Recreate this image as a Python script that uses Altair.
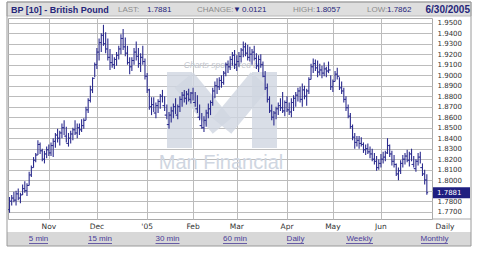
import altair as alt
import pandas as pd

# ---------------- data ----------------
low = [1.769,1.776,1.779,1.776,1.781,1.778,1.786,1.788,1.785,1.795,
       1.803,1.812,1.817,1.824,1.825,1.818,1.816,1.821,1.823,1.823,
       1.822,1.831,1.836,1.833,1.840,1.843,1.836,1.832,1.835,1.838,
       1.843,1.840,1.843,1.846,1.849,1.857,1.864,1.874,1.883,1.898,
       1.906,1.914,1.922,1.928,1.921,1.914,1.905,1.907,1.906,1.909,
       1.915,1.920,1.924,1.918,1.910,1.901,1.904,1.910,1.914,1.907,
       1.903,1.910,1.896,1.883,1.867,1.862,1.865,1.859,1.864,1.868,
       1.874,1.866,1.858,1.849,1.855,1.859,1.863,1.858,1.865,1.870,
       1.874,1.872,1.875,1.873,1.876,1.870,1.864,1.857,1.849,1.846,
       1.851,1.859,1.862,1.871,1.878,1.882,1.886,1.888,1.891,1.899,
       1.902,1.905,1.909,1.906,1.904,1.908,1.912,1.917,1.918,1.914,
       1.913,1.910,1.914,1.906,1.903,1.907,1.898,1.886,1.874,1.864,
       1.857,1.852,1.858,1.862,1.866,1.864,1.861,1.865,1.862,1.860,
       1.866,1.870,1.875,1.874,1.870,1.877,1.871,1.882,1.896,1.902,
       1.904,1.898,1.900,1.897,1.899,1.898,1.902,1.886,1.884,1.894,
       1.896,1.886,1.882,1.874,1.866,1.859,1.849,1.838,1.830,1.832,
       1.830,1.832,1.826,1.824,1.825,1.821,1.818,1.815,1.809,1.810,
       1.812,1.816,1.818,1.825,1.822,1.814,1.812,1.804,1.800,1.806,
       1.812,1.815,1.817,1.813,1.818,1.812,1.808,1.814,1.816,1.804,1.796,1.7862]
high = [1.784,1.786,1.789,1.790,1.792,1.788,1.796,1.799,1.797,1.808,
        1.814,1.822,1.826,1.838,1.836,1.830,1.828,1.832,1.834,1.836,
        1.840,1.845,1.849,1.847,1.854,1.857,1.851,1.845,1.847,1.850,
        1.857,1.854,1.854,1.858,1.859,1.870,1.878,1.890,1.898,1.912,
        1.926,1.935,1.940,1.948,1.941,1.935,1.925,1.920,1.917,1.922,
        1.928,1.939,1.944,1.936,1.928,1.917,1.917,1.926,1.932,1.926,
        1.921,1.928,1.916,1.902,1.887,1.879,1.879,1.874,1.877,1.882,
        1.886,1.880,1.872,1.865,1.870,1.873,1.878,1.872,1.880,1.884,
        1.886,1.885,1.887,1.884,1.888,1.884,1.881,1.872,1.864,1.861,
        1.867,1.873,1.876,1.888,1.894,1.897,1.898,1.900,1.904,1.912,
        1.914,1.918,1.922,1.924,1.919,1.922,1.926,1.932,1.931,1.929,
        1.927,1.925,1.928,1.921,1.919,1.920,1.913,1.904,1.892,1.880,
        1.872,1.866,1.870,1.874,1.878,1.884,1.876,1.880,1.874,1.878,
        1.881,1.884,1.888,1.889,1.892,1.890,1.887,1.898,1.911,1.916,
        1.915,1.914,1.911,1.909,1.912,1.908,1.913,1.900,1.896,1.904,
        1.907,1.898,1.894,1.888,1.880,1.872,1.864,1.853,1.845,1.842,
        1.842,1.841,1.836,1.834,1.835,1.832,1.830,1.826,1.823,1.820,
        1.825,1.827,1.828,1.840,1.834,1.828,1.824,1.816,1.812,1.819,
        1.824,1.826,1.829,1.827,1.830,1.823,1.820,1.826,1.827,1.816,1.810,1.8057]
open_ = [1.772,1.780,1.783,1.781,1.787,1.783,1.786,1.792,1.790,1.795,
         1.805,1.812,1.819,1.824,1.834,1.828,1.820,1.825,1.829,1.826,
         1.833,1.837,1.843,1.840,1.845,1.850,1.842,1.835,1.840,1.844,
         1.848,1.845,1.850,1.848,1.852,1.857,1.867,1.876,1.886,1.897,
         1.910,1.922,1.931,1.938,1.930,1.925,1.917,1.912,1.910,1.915,
         1.919,1.925,1.935,1.927,1.921,1.912,1.908,1.914,1.922,1.918,
         1.911,1.917,1.913,1.899,1.886,1.870,1.872,1.864,1.871,1.875,
         1.880,1.871,1.862,1.853,1.862,1.866,1.870,1.862,1.870,1.877,
         1.881,1.878,1.882,1.877,1.883,1.874,1.868,1.860,1.852,1.850,
         1.857,1.864,1.868,1.874,1.885,1.890,1.889,1.895,1.893,1.902,
         1.910,1.908,1.915,1.919,1.910,1.913,1.918,1.924,1.927,1.921,
         1.917,1.920,1.922,1.916,1.909,1.915,1.910,1.899,1.888,1.877,
         1.866,1.860,1.864,1.868,1.871,1.869,1.866,1.874,1.867,1.865,
         1.874,1.878,1.881,1.885,1.877,1.886,1.880,1.885,1.896,1.908,
         1.911,1.907,1.903,1.905,1.902,1.906,1.904,1.905,1.889,1.894,
         1.901,1.899,1.888,1.885,1.877,1.869,1.861,1.851,1.841,1.836,
         1.838,1.835,1.834,1.829,1.830,1.827,1.825,1.820,1.818,1.812,
         1.816,1.820,1.822,1.826,1.833,1.825,1.818,1.815,1.806,1.809,
         1.816,1.820,1.823,1.819,1.825,1.815,1.811,1.818,1.822,1.812,1.806,1.8002]
close = [1.780,1.783,1.781,1.787,1.783,1.786,1.792,1.790,1.795,1.805,
         1.812,1.819,1.824,1.834,1.828,1.820,1.825,1.829,1.826,1.833,
         1.837,1.843,1.840,1.845,1.850,1.842,1.835,1.840,1.844,1.848,
         1.845,1.850,1.848,1.852,1.857,1.867,1.876,1.886,1.897,1.910,
         1.922,1.931,1.938,1.930,1.925,1.917,1.912,1.910,1.915,1.919,
         1.925,1.935,1.927,1.921,1.912,1.908,1.914,1.922,1.918,1.911,
         1.917,1.913,1.899,1.886,1.870,1.872,1.864,1.871,1.875,1.880,
         1.871,1.862,1.853,1.862,1.866,1.870,1.862,1.870,1.877,1.881,
         1.878,1.882,1.877,1.883,1.874,1.868,1.860,1.852,1.850,1.857,
         1.864,1.868,1.874,1.885,1.890,1.889,1.895,1.893,1.902,1.910,
         1.908,1.915,1.919,1.910,1.913,1.918,1.924,1.927,1.921,1.917,
         1.920,1.922,1.916,1.909,1.915,1.910,1.899,1.888,1.877,1.866,
         1.860,1.864,1.868,1.871,1.869,1.866,1.874,1.867,1.865,1.874,
         1.878,1.881,1.885,1.877,1.886,1.880,1.885,1.896,1.908,1.911,
         1.907,1.903,1.905,1.902,1.906,1.904,1.905,1.889,1.894,1.901,
         1.899,1.888,1.885,1.877,1.869,1.861,1.851,1.841,1.836,1.838,
         1.835,1.834,1.829,1.830,1.827,1.825,1.820,1.818,1.812,1.816,
         1.820,1.822,1.826,1.833,1.825,1.818,1.815,1.806,1.809,1.816,
         1.820,1.823,1.819,1.825,1.815,1.811,1.818,1.822,1.812,1.806,1.8002,1.7881]

month_idx = [18, 40, 63, 84, 104, 127, 148, 170]
month_lbl = ["Nov", "Dec", "'05", "Feb", "Mar", "Apr", "May", "Jun"]
y_ticks = [1.77, 1.78, 1.79, 1.80, 1.81, 1.82, 1.83, 1.84, 1.85, 1.86,
           1.87, 1.88, 1.89, 1.90, 1.91, 1.92, 1.93, 1.94, 1.95]
last_price = [1.7881]
links = ["5 min", "15 min", "30 min", "60 min", "Daily", "Weekly", "Monthly"]

# ---------------- styling ----------------
NAVY = "#2c2c8e"
HDR_NAVY = "#26267a"
GREY_LBL = "#8c8c8c"
LINK = "#4a3c98"
WM = "#cfd6e1"
GRID = "#bcbcbc"
FONT = "Liberation Sans"

n = len(close)
df = pd.DataFrame({"i": list(range(n)), "o": open_, "h": high, "l": low, "c": close})

xs = alt.Scale(domain=[-0.6865, 193.36], nice=False, zero=False)
ys = alt.Scale(domain=[1.76305, 1.95448], nice=False, zero=False)

xaxis = alt.Axis(values=month_idx, labels=False, ticks=False, domain=False,
                 grid=True, gridColor=GRID, gridWidth=1, title=None)
yaxis = alt.Axis(orient="right", values=y_ticks, format=".4f", labelFont="DejaVu Sans",
                 labelFontSize=7, labelColor="#333333", tickSize=0, labelPadding=5,
                 domain=False, grid=True, gridColor=GRID, gridWidth=1,
                 title=None, labelOverlap=False, labelFlush=False, labelBound=False)


def txt(s, x, y, size=8.5, color="#333", weight="normal", align="left", font=FONT, style="normal"):
    return alt.Chart(pd.DataFrame({"t": [s]})).mark_text(
        align=align, baseline="middle", fontSize=size, color=color, fontWeight=weight,
        font=font, fontStyle=style
    ).encode(text="t:N", x=alt.value(x), y=alt.value(y))


def box(x1, x2, y1, y2, **kw):
    return alt.Chart(pd.DataFrame({"a": [0]})).mark_rect(**kw).encode(
        x=alt.value(x1), x2=alt.value(x2), y=alt.value(y1), y2=alt.value(y2))


def seg(x1, x2, y1, y2, color, w=1, **kw):
    return alt.Chart(pd.DataFrame({"a": [0]})).mark_rule(color=color, strokeWidth=w, **kw).encode(
        x=alt.value(x1), x2=alt.value(x2), y=alt.value(y1), y2=alt.value(y2))


# plot origin is at page (8, 18); decoration positions below are relative to it
layers = []
# header bar and bottom link bar
layers.append(box(-1, 463, -16, -2, fill="#dedede", stroke="#b8b8b8", strokeWidth=1))
layers.append(box(-1, 463, 214, 228, fill="#d8d8d8"))

# watermark (Man Financial logo)
layers.append(txt("Charts sponsored by", 215, 47, size=8.5, color="#c2c6ce", align="center", style="italic"))
layers.append(box(159, 184, 54, 130, fill=WM, opacity=0.8))
layers.append(box(244, 269, 54, 130, fill=WM, opacity=0.8))
layers.append(seg(176, 214, 62, 108, WM, 24, strokeCap="butt", opacity=0.8))
layers.append(seg(214, 252, 108, 62, WM, 24, strokeCap="butt", opacity=0.8))
layers.append(txt("Man Financial", 213, 145, size=20, color=WM, align="center"))

# OHLC bars (all layers share the same axis objects so they merge cleanly)
base = alt.Chart(df)
bars = base.mark_rule(color=NAVY, strokeWidth=1.1).encode(
    x=alt.X("i:Q", scale=xs, axis=xaxis),
    y=alt.Y("l:Q", scale=ys, axis=yaxis),
    y2="h:Q")
opens = base.transform_calculate(i0="datum.i - 0.6").mark_rule(color=NAVY, strokeWidth=1).encode(
    x=alt.X("i0:Q", scale=xs, axis=xaxis), x2="i:Q", y=alt.Y("o:Q", scale=ys, axis=yaxis))
closes = base.transform_calculate(i1="datum.i + 0.6").mark_rule(color=NAVY, strokeWidth=1).encode(
    x=alt.X("i:Q", scale=xs, axis=xaxis), x2="i1:Q", y=alt.Y("c:Q", scale=ys, axis=yaxis))
layers += [bars, opens, closes]

# month labels on the x scale
mdf = pd.DataFrame({"m": month_idx, "lbl": month_lbl})
layers.append(alt.Chart(mdf).mark_text(fontSize=7.5, font="DejaVu Sans", color="#333333",
                                        baseline="middle", align="center").encode(
    x=alt.X("m:Q", scale=xs, axis=xaxis), y=alt.value(209), text="lbl:N"))
layers.append(txt("Daily", 437, 209, size=7.5, color="#333333", align="center", font="DejaVu Sans"))

# last price flag on the right axis
ldf = pd.DataFrame({"v": last_price})
layers.append(alt.Chart(ldf).transform_calculate(
    vt="datum.v + 0.0052", vb="datum.v - 0.0052").mark_rect(color="#1f1f80").encode(
    x=alt.value(425), x2=alt.value(462), y=alt.Y("vt:Q", scale=ys, axis=yaxis), y2="vb:Q"))
layers.append(alt.Chart(ldf).mark_text(align="left", baseline="middle", fontSize=7,
                                        font="DejaVu Sans", color="white").encode(
    x=alt.value(429), y=alt.Y("v:Q", scale=ys, axis=yaxis), text=alt.Text("v:Q", format=".4f")))

# header texts
layers.append(txt("BP [10] - British Pound", 3, -8.5, size=9, color=HDR_NAVY, weight="bold"))
layers.append(txt("LAST:", 110, -8.5, size=8, color=GREY_LBL))
layers.append(txt("1.7881", 139, -8.5, size=8, color=HDR_NAVY))
layers.append(txt("CHANGE:", 189, -8.5, size=8, color=GREY_LBL))
layers.append(txt("\u25bc", 225, -8.5, size=8, color=HDR_NAVY))
layers.append(txt("0.0121", 234, -8.5, size=8, color=HDR_NAVY))
layers.append(txt("HIGH:", 285, -8.5, size=8, color=GREY_LBL))
layers.append(txt("1.8057", 308, -8.5, size=8, color=HDR_NAVY))
layers.append(txt("LOW:", 359, -8.5, size=8, color=GREY_LBL))
layers.append(txt("1.7862", 379, -8.5, size=8, color=HDR_NAVY))
layers.append(txt("6/30/2005", 462, -8.5, size=10, color=HDR_NAVY, weight="bold", align="right"))

# links with underlines
link_cx = [30.5, 92, 159.5, 227, 287.5, 351.5, 426.5]
link_w = [19, 24, 24, 24, 17, 27, 27]
for s, cx, w in zip(links, link_cx, link_w):
    layers.append(txt(s, cx, 221, size=8, color=LINK, align="center"))
    layers.append(seg(cx - w / 2, cx + w / 2, 225.5, 225.5, LINK, 0.8))

# outer frame and right panel bottom line
layers.append(box(-1, 463, -16, 228, fillOpacity=0, stroke="#9a9a9a", strokeWidth=1))
layers.append(seg(424, 463, 201, 201, "#aaaaaa"))

chart = alt.layer(*layers).properties(
    width=424, height=201,
    autosize=alt.AutoSizeParams(type="none"),
    padding={"left": 8, "top": 18, "right": 48, "bottom": 39},
    background="white",
).configure_view(stroke="#aaaaaa", strokeWidth=1).configure_axis(labelOverlap=False)

chart.save("out.html", embed_options={"renderer": "svg", "actions": False})
